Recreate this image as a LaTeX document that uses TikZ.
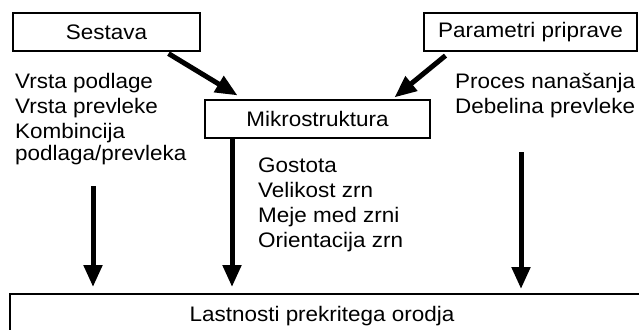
\documentclass[tikz,border=0pt]{standalone}
\usepackage{fontspec}
\setmainfont{Liberation Sans}[FakeStretch=1.07]
\usetikzlibrary{arrows.meta}
\begin{document}
\begin{tikzpicture}[x=1pt,y=-1pt,
  box/.style={draw, line width=1.2pt, inner sep=0pt, font=\fontsize{21}{25}\selectfont},
  lbl/.style={anchor=base west, inner sep=0pt, font=\fontsize{21}{25}\selectfont},
  arr/.style={line width=5pt, -{Triangle[length=22pt,width=18pt]}}]
\useasboundingbox (0,0) rectangle (639,329);
\clip (0,0) rectangle (639,329);
\node[box, minimum width=187pt, minimum height=38pt] (ses) at (106.5,32) {Sestava};
\node[box, minimum width=213pt, minimum height=38pt] (par) at (530.5,32) {Parametri priprave};
\node[box, minimum width=225pt, minimum height=38pt] (mik) at (317.5,119) {Mikrostruktura};
\node[box, minimum width=640pt, minimum height=50pt] (las) at (330,319) {};
\node[anchor=base, inner sep=0pt, font=\fontsize{21}{25}\selectfont] (lastxt) at (322,321) {Lastnosti prekritega orodja};
\node[lbl] (l1) at (15,88) {Vrsta podlage};
\node[lbl] (l2) at (15,113) {Vrsta prevleke};
\node[lbl] (l3) at (15,138) {Kombincija};
\node[lbl] (l4) at (15,160) {podlaga/prevleka};
\node[lbl] (r1) at (455,88) {Proces nanašanja};
\node[lbl] (r2) at (455,113) {Debelina prevleke};
\node[lbl] (m1) at (258,172) {Gostota};
\node[lbl] (m2) at (258,197) {Velikost zrn};
\node[lbl] (m3) at (258,222) {Meje med zrni};
\node[lbl] (m4) at (258,247) {Orientacija zrn};
\coordinate (la) at (93,186);
\coordinate (ra) at (521,152);
\draw[arr] ([xshift=62pt,yshift=-2pt]ses.south) -- ([xshift=-80pt,yshift=4pt]mik.north);
\draw[arr] ([xshift=-85pt,yshift=-4pt]par.south) -- ([xshift=77pt,yshift=2pt]mik.north);
\draw[arr] (la) -- (93,287);
\draw[arr] ([xshift=-85.5pt]mik.south) -- (232,287);
\draw[arr] (ra) -- (521,289);
\end{tikzpicture}
\end{document}
